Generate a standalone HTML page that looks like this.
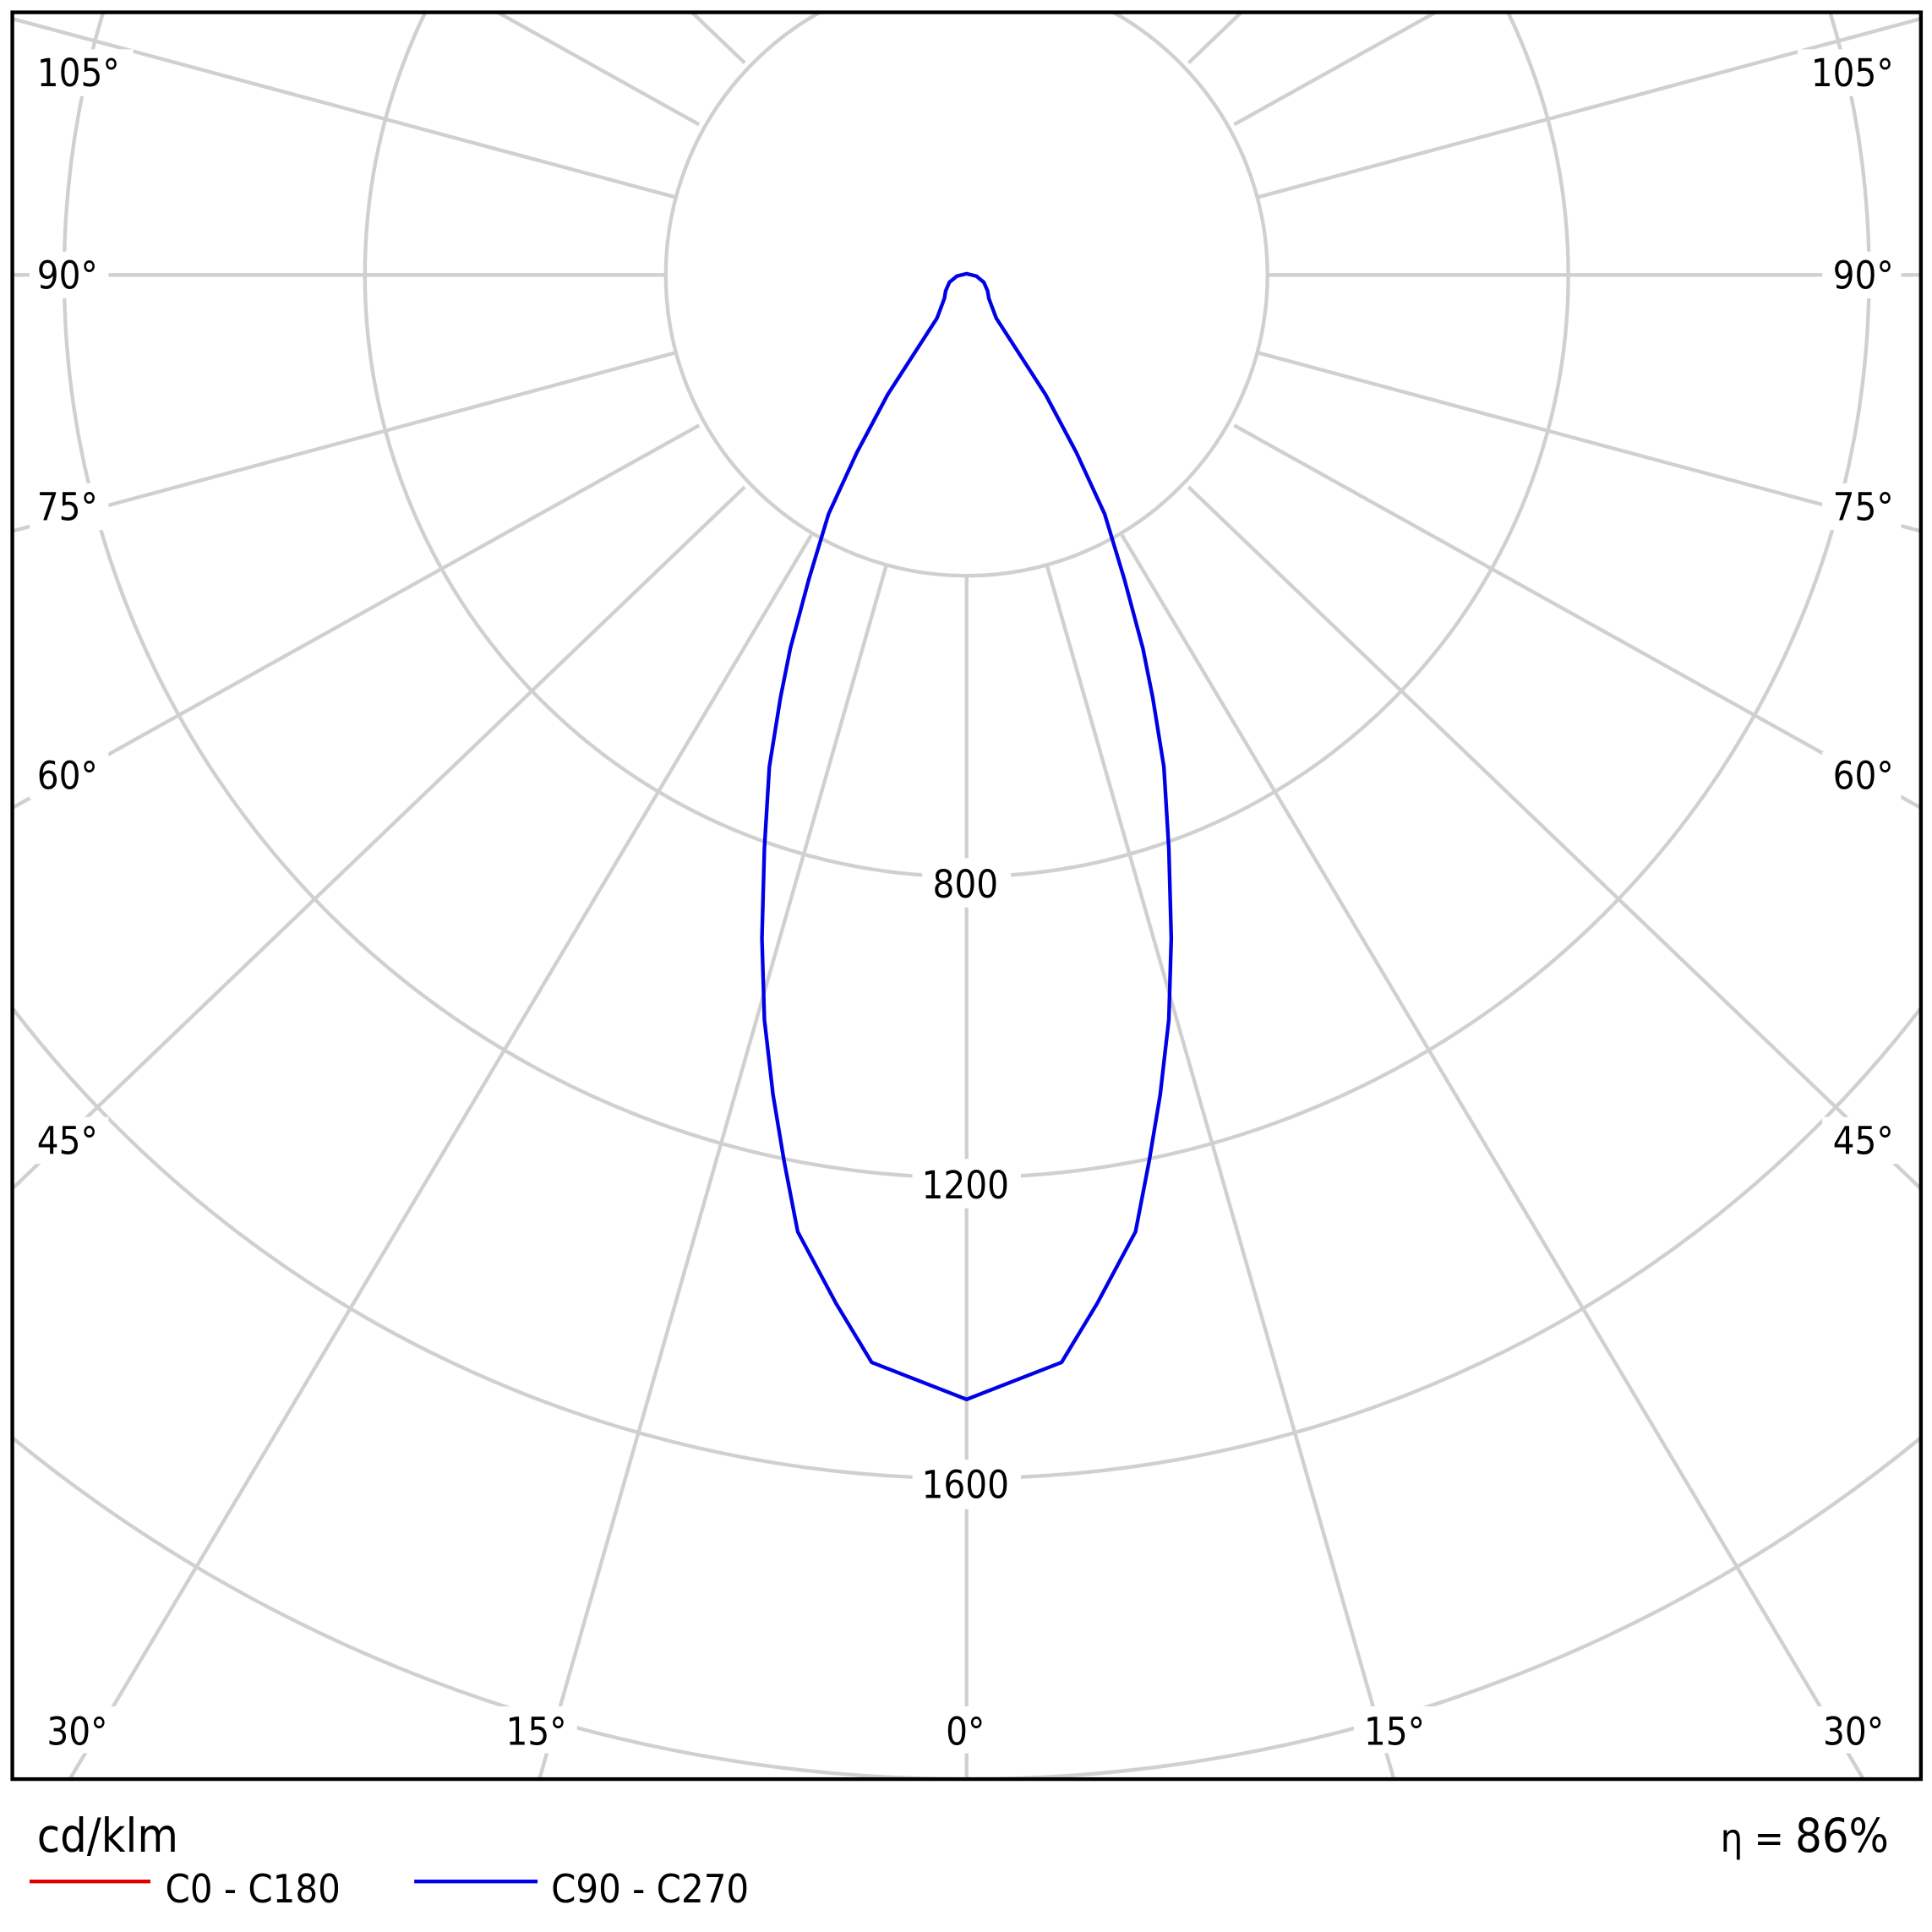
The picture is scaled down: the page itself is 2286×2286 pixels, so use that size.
<!DOCTYPE html>
<html><head><meta charset="utf-8"><style>html,body{margin:0;padding:0;background:#fff;overflow:hidden;width:2286px;height:2286px}svg{display:block}</style></head>
<body>
<svg width="2286" height="2286" viewBox="0 0 1567 1567" xmlns="http://www.w3.org/2000/svg" font-family="'DejaVu Sans Condensed','DejaVu Sans','Liberation Sans',sans-serif" font-stretch="condensed">
<defs><clipPath id="c"><rect x="10" y="10" width="1548" height="1433"/></clipPath></defs>
<rect width="1567" height="1567" fill="#fff"/>
<g clip-path="url(#c)" stroke="#d0d0d0" stroke-width="3" fill="none">
<circle cx="784" cy="223" r="244"/>
<circle cx="784" cy="223" r="488"/>
<circle cx="784" cy="223" r="732"/>
<circle cx="784" cy="223" r="976"/>
<circle cx="784" cy="223" r="1220"/>
<line x1="784" y1="467" x2="784" y2="2500"/>
<line x1="849" y1="458" x2="1400" y2="2386"/><line x1="719" y1="458" x2="168" y2="2386"/>
<line x1="910" y1="434" x2="2015" y2="2288"/><line x1="658" y1="434" x2="-447" y2="2288"/>
<line x1="964" y1="395" x2="2542" y2="1907"/><line x1="604" y1="395" x2="-974" y2="1907"/>
<line x1="1001" y1="345" x2="2963" y2="1438"/><line x1="567" y1="345" x2="-1395" y2="1438"/>
<line x1="1020" y1="286" x2="3186" y2="869"/><line x1="548" y1="286" x2="-1618" y2="869"/>
<line x1="1028" y1="223" x2="3300" y2="223"/><line x1="540" y1="223" x2="-1800" y2="223"/>
<line x1="1020" y1="160" x2="3186" y2="-423"/><line x1="548" y1="160" x2="-1618" y2="-423"/>
<line x1="1001" y1="101" x2="2963" y2="-992"/><line x1="567" y1="101" x2="-1395" y2="-992"/>
<line x1="964" y1="51" x2="2542" y2="-1461"/><line x1="604" y1="51" x2="-974" y2="-1461"/>
</g>
<g font-size="31" fill="#000">
<rect x="748" y="696" width="72" height="40" fill="#fff"/>
<rect x="740" y="940" width="88" height="40" fill="#fff"/>
<rect x="740" y="1184" width="88" height="40" fill="#fff"/>
<text x="783" y="728" text-anchor="middle">800</text>
<text x="783" y="972" text-anchor="middle">1200</text>
<text x="783" y="1215" text-anchor="middle">1600</text>
<rect x="24" y="40" width="84" height="38" fill="#fff"/><text x="30" y="70">105°</text>
<rect x="1458" y="40" width="84" height="38" fill="#fff"/><text x="1536" y="70" text-anchor="end">105°</text>
<rect x="24" y="204" width="64" height="38" fill="#fff"/><text x="30" y="234">90°</text>
<rect x="1478" y="204" width="64" height="38" fill="#fff"/><text x="1536" y="234" text-anchor="end">90°</text>
<rect x="24" y="392" width="64" height="38" fill="#fff"/><text x="30" y="422">75°</text>
<rect x="1478" y="392" width="64" height="38" fill="#fff"/><text x="1536" y="422" text-anchor="end">75°</text>
<rect x="24" y="610" width="64" height="38" fill="#fff"/><text x="30" y="640">60°</text>
<rect x="1478" y="610" width="64" height="38" fill="#fff"/><text x="1536" y="640" text-anchor="end">60°</text>
<rect x="24" y="906" width="64" height="38" fill="#fff"/><text x="30" y="936">45°</text>
<rect x="1478" y="906" width="64" height="38" fill="#fff"/><text x="1536" y="936" text-anchor="end">45°</text>
<rect x="32" y="1384" width="66" height="38" fill="#fff"/><text x="38" y="1415">30°</text>
<rect x="1468" y="1384" width="66" height="38" fill="#fff"/><text x="1528" y="1415" text-anchor="end">30°</text>
<rect x="402" y="1384" width="66" height="38" fill="#fff"/><text x="435" y="1415" text-anchor="middle">15°</text>
<rect x="1098" y="1384" width="66" height="38" fill="#fff"/><text x="1131" y="1415" text-anchor="middle">15°</text>
<rect x="760" y="1384" width="48" height="38" fill="#fff"/><text x="783" y="1415" text-anchor="middle">0°</text>
</g>
<polygon fill="none" stroke="#0000e6" stroke-width="3" stroke-linejoin="round" points="784,1135 861,1105 890,1057 921,999 932,942 941,888 948,827 950,761 948,688 944,622 935,566 927,526 912,470 896,417 873,367 848,320 808,258 802,242 801,236 798,229 792,224 784,222 776,224 770,229 767,236 766,242 760,258 720,320 695,367 672,417 656,470 641,526 633,566 624,622 620,688 618,761 620,827 627,888 636,942 647,999 678,1057 707,1105"/>
<rect x="10" y="10" width="1548" height="1433" fill="none" stroke="#000" stroke-width="3"/>
<text x="30" y="1502" font-size="38" fill="#000">cd/klm</text>
<text x="1532" y="1502" font-size="38" fill="#000" text-anchor="end"><tspan font-size="32">η = </tspan>86%</text>
<line x1="24" y1="1526" x2="122" y2="1526" stroke="#e00000" stroke-width="3"/>
<text x="134" y="1543" font-size="32" fill="#000">C0 - C180</text>
<line x1="336" y1="1526" x2="436" y2="1526" stroke="#0000e6" stroke-width="3"/>
<text x="447" y="1543" font-size="32" fill="#000">C90 - C270</text>
</svg>
</body></html>
